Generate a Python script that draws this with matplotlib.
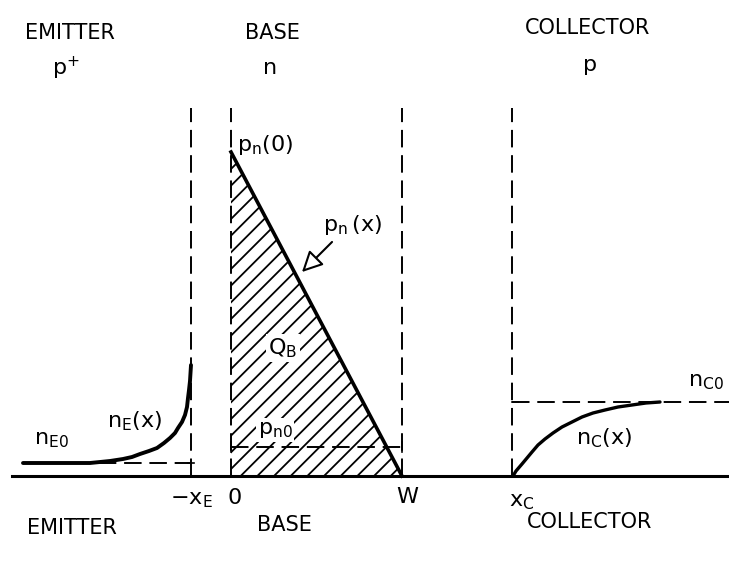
import numpy as np
import matplotlib.pyplot as plt
from matplotlib.patches import Polygon, FancyArrowPatch

plt.rcParams['font.family'] = ['DejaVu Sans']
plt.rcParams['mathtext.default'] = 'regular'
plt.rcParams['hatch.linewidth'] = 1.3

# posiciones de las uniones (unidades del dibujo)
x_E = 191      # -x_E
x_0 = 231      # 0
x_W = 402      # W
x_C = 512      # x_C
y_top = 368    # altura de las lineas de union

# concentraciones
n_E0 = 13
p_n0 = 29
p_n_0 = 324
n_C0 = 74

# curva n_E(x) en el emisor
nE_x = [23, 90, 110, 123, 132, 140, 149, 157, 164, 170, 175, 178, 182, 185, 187, 188, 189, 190, 191]
nE_y = [13, 13, 15, 17, 19, 22, 25, 28, 33, 38, 43, 48, 54, 61, 69, 78, 86, 95, 111]

# curva n_C(x) en el colector
nC_x = [513, 516, 522, 527, 532, 538, 545, 553, 562, 572, 582, 593, 605, 618, 632, 646, 660]
nC_y = [0, 5, 12, 18, 24, 31, 37, 43, 49, 54, 59, 63, 66, 69, 71, 73, 74]

fig = plt.figure(figsize=(7.29, 5.66), dpi=100)
ax = fig.add_axes([0, 0, 1, 1])
ax.set_xlim(0, 729)
ax.set_ylim(-90, 476)
ax.axis('off')

dash = dict(color='black', lw=1.4, ls=(0, (9, 4)))

# eje horizontal
ax.plot([12, 729], [0, 0], color='black', lw=2.2)

# lineas verticales de las uniones
for xv in [x_E, x_0, x_W, x_C]:
    ax.plot([xv, xv], [0, y_top], **dash)

# region de la base: Q_B rayado
tri = Polygon([(x_0, 0), (x_0, p_n_0), (x_W, 0)], closed=True,
              facecolor='none', edgecolor='black', lw=0, hatch='//')
ax.add_patch(tri)
ax.plot([x_0, x_W], [p_n_0, 0], color='black', lw=2.6)
ax.plot([x_0, x_W], [p_n0, p_n0], **dash)
ax.plot([x_0, x_0], [p_n0 - 5, p_n0 + 5], color='black', lw=1.2)
ax.plot([x_W, x_W], [p_n0 - 5, p_n0 + 5], color='black', lw=1.2)

# emisor
ax.plot([nE_x[0], x_E], [n_E0, n_E0], **dash)
ax.plot([x_E - 3, x_E + 3], [n_E0, n_E0], color='black', lw=1.2)
ax.plot(nE_x, nE_y, color='black', lw=2.8, solid_capstyle='round')

# colector
ax.plot([x_C, 729], [n_C0, n_C0], **dash)
ax.plot([x_C, x_C + 6], [n_C0, n_C0], color='black', lw=1.2)
ax.plot(nC_x, nC_y, color='black', lw=2.4, solid_capstyle='round')

# flecha p_n(x)
arr = FancyArrowPatch((334, 236), (300, 202), arrowstyle='-|>,head_length=7,head_width=3.5',
                      mutation_scale=1.8, color='black', lw=1.5, fc='white')
ax.add_patch(arr)

# titulos de las regiones
fs_h = 15
ax.text(70, 443, 'EMITTER', fontsize=fs_h, ha='center', va='center')
ax.text(66, 408, '$p^{+}$', fontsize=fs_h + 1, ha='center', va='center')
ax.text(272, 443, 'BASE', fontsize=fs_h, ha='center', va='center')
ax.text(270, 408, 'n', fontsize=fs_h + 1, ha='center', va='center')
ax.text(588, 448, 'COLLECTOR', fontsize=fs_h, ha='center', va='center')
ax.text(590, 411, 'p', fontsize=fs_h + 1, ha='center', va='center')

ax.text(72, -52, 'EMITTER', fontsize=fs_h, ha='center', va='center')
ax.text(284, -49, 'BASE', fontsize=fs_h, ha='center', va='center')
ax.text(590, -46, 'COLLECTOR', fontsize=fs_h, ha='center', va='center')

# marcas del eje
fs_l = 16
ax.text(x_E, -24, '$-x_E$', fontsize=fs_l, ha='center', va='center')
ax.text(x_0 + 4, -22, '0', fontsize=fs_l, ha='center', va='center')
ax.text(x_W + 5, -21, 'W', fontsize=fs_l, ha='center', va='center')
ax.text(x_C + 10, -26, '$x_C$', fontsize=fs_l, ha='center', va='center')

# etiquetas de las curvas
blanco = dict(facecolor='white', edgecolor='none', pad=1.5)
ax.text(237, 331, '$p_n(0)$', fontsize=fs_l, ha='left', va='center')
ax.text(352, 251, '$p_n\\,(x)$', fontsize=fs_l, ha='center', va='center')
ax.text(283, 128, '$Q_B$', fontsize=fs_l, ha='center', va='center', bbox=blanco)
ax.text(275, 46, '$p_{n0}$', fontsize=fs_l, ha='center', va='center', bbox=blanco)
ax.text(51, 36, '$n_{E0}$', fontsize=fs_l, ha='center', va='center')
ax.text(135, 55, '$n_E(x)$', fontsize=fs_l, ha='center', va='center')
ax.text(604, 38, '$n_C(x)$', fontsize=fs_l, ha='center', va='center')
ax.text(706, 94, '$n_{C0}$', fontsize=fs_l, ha='center', va='center')

fig.savefig('out.png', dpi=100, facecolor='white')
